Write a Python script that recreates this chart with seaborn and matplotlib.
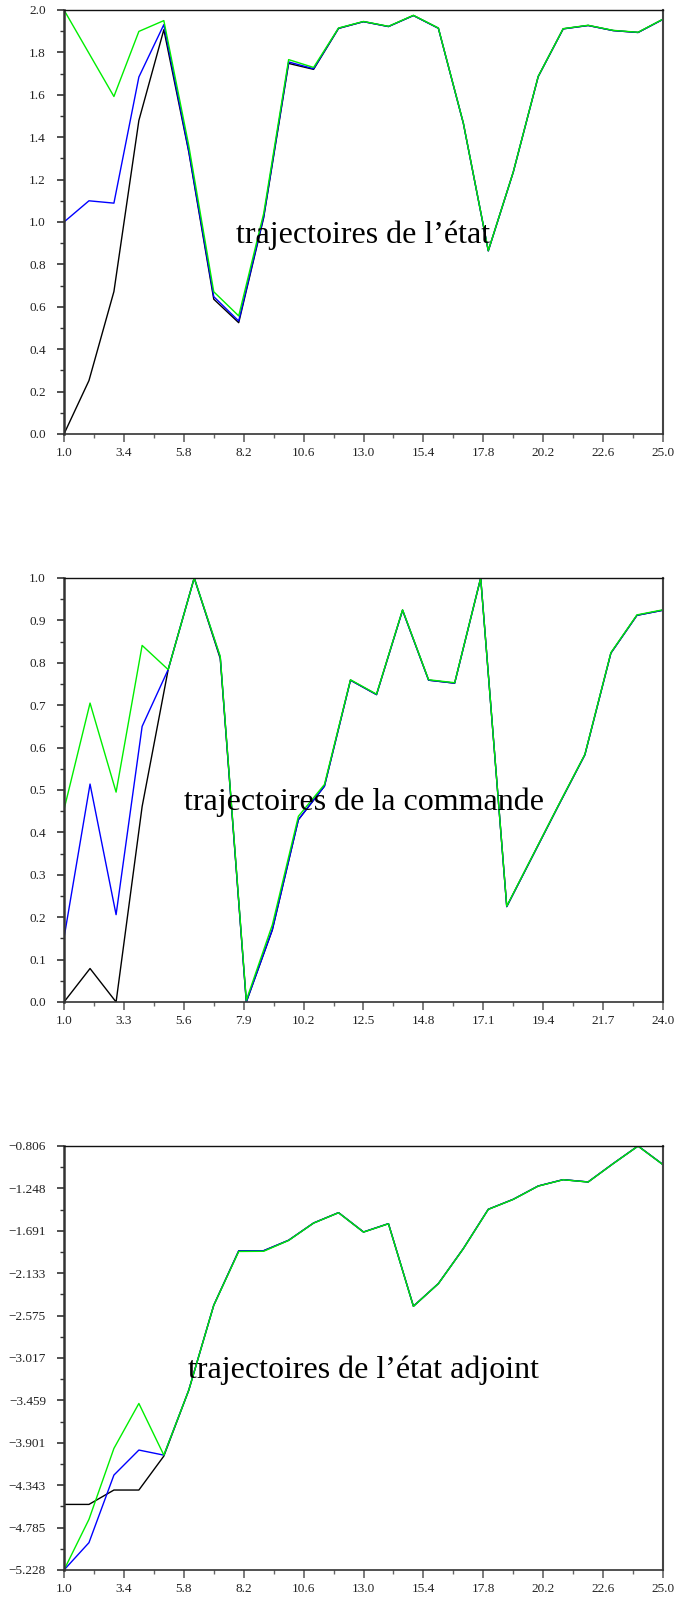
import numpy as np
import pandas as pd
import matplotlib
matplotlib.use("Agg")
import matplotlib.pyplot as plt
from matplotlib.ticker import FixedLocator, FormatStrFormatter
import seaborn as sns

# ---------------- data ----------------
x_etat = list(range(1, 26))
etat_noir = [0.0, 0.252, 0.672, 1.479, 1.907, 1.33, 0.636, 0.525, 1.02, 1.748, 1.72,
             1.913, 1.945, 1.922, 1.974, 1.914, 1.466, 0.864, 1.235, 1.686, 1.911,
             1.927, 1.903, 1.894, 1.956]
etat_bleu = [1.0, 1.10, 1.089, 1.684, 1.931, 1.335, 0.648, 0.533, 1.025, 1.755, 1.723,
             1.914, 1.945, 1.922, 1.974, 1.914, 1.466, 0.864, 1.235, 1.686, 1.911,
             1.927, 1.903, 1.894, 1.956]
etat_vert = [2.0, 1.796, 1.592, 1.899, 1.95, 1.36, 0.671, 0.557, 1.04, 1.766, 1.729,
             1.915, 1.946, 1.923, 1.975, 1.915, 1.467, 0.865, 1.236, 1.687, 1.912,
             1.928, 1.904, 1.895, 1.957]

x_cmd = list(range(1, 25))
cmd_noir = [0.0, 0.079, 0.0, 0.461, 0.784, 1.0, 0.81, 0.0, 0.17, 0.43, 0.509, 0.759,
            0.725, 0.924, 0.759, 0.752, 1.0, 0.225, 0.345, 0.465, 0.583, 0.823, 0.912, 0.924]
cmd_bleu = [0.151, 0.514, 0.206, 0.650, 0.784, 1.0, 0.813, 0.0, 0.171, 0.430, 0.509, 0.759,
            0.725, 0.924, 0.759, 0.752, 1.0, 0.225, 0.345, 0.465, 0.583, 0.823, 0.912, 0.924]
cmd_vert = [0.454, 0.705, 0.495, 0.841, 0.784, 1.0, 0.815, 0.004, 0.182, 0.438, 0.513, 0.760,
            0.726, 0.925, 0.760, 0.753, 1.0, 0.226, 0.346, 0.466, 0.584, 0.824, 0.913, 0.925]

x_adj = list(range(1, 26))
adj_noir = [-4.544, -4.544, -4.394, -4.394, -4.04, -3.352, -2.467, -1.900, -1.898, -1.789,
            -1.609, -1.501, -1.703, -1.616, -2.477, -2.241, -1.876, -1.466, -1.362, -1.223,
            -1.157, -1.181, -0.990, -0.806, -1.000]
adj_bleu = [-5.228, -4.943, -4.238, -3.977, -4.03, -3.352, -2.467, -1.900, -1.898, -1.789,
            -1.609, -1.501, -1.703, -1.616, -2.477, -2.241, -1.876, -1.466, -1.362, -1.223,
            -1.157, -1.181, -0.990, -0.806, -1.000]
adj_vert = [-5.228, -4.70, -3.96, -3.491, -4.03, -3.352, -2.467, -1.906, -1.904, -1.791,
            -1.610, -1.502, -1.704, -1.617, -2.478, -2.242, -1.877, -1.467, -1.363, -1.224,
            -1.158, -1.182, -0.991, -0.807, -1.001]

etat_xticks = [1.0, 3.4, 5.8, 8.2, 10.6, 13.0, 15.4, 17.8, 20.2, 22.6, 25.0]
cmd_xticks = [1.0, 3.3, 5.6, 7.9, 10.2, 12.5, 14.8, 17.1, 19.4, 21.7, 24.0]
etat_yticks = [0.0, 0.2, 0.4, 0.6, 0.8, 1.0, 1.2, 1.4, 1.6, 1.8, 2.0]
cmd_yticks = [0.0, 0.1, 0.2, 0.3, 0.4, 0.5, 0.6, 0.7, 0.8, 0.9, 1.0]
adj_yticks = [-5.228, -4.785, -4.343, -3.901, -3.459, -3.017, -2.575, -2.133, -1.691, -1.248, -0.806]

titres = ["trajectoires de l\u2019\u00e9tat",
          "trajectoires de la commande",
          "trajectoires de l\u2019\u00e9tat adjoint"]
series = ["noir", "bleu", "vert"]
couleurs = {"noir": "#000000", "bleu": "#0000ff", "vert": "#00ee00"}

# ---------------- style ----------------
sns.set_style("ticks")
plt.rcParams["font.family"] = ["Liberation Serif", "DejaVu Serif"]
plt.rcParams["axes.unicode_minus"] = True

fig = plt.figure(figsize=(6.75, 16), dpi=100)
W = 675.0
H = 1600.0
left = 64 / W
width = (663 - 64) / W
height = 424 / H
bottoms = [(H - 434) / H, (H - 1002) / H, (H - 1570) / H]

panels = [
    (x_etat, [etat_noir, etat_bleu, etat_vert], etat_xticks, etat_yticks, "%.1f", (1, 25)),
    (x_cmd, [cmd_noir, cmd_bleu, cmd_vert], cmd_xticks, cmd_yticks, "%.1f", (1, 24)),
    (x_adj, [adj_noir, adj_bleu, adj_vert], etat_xticks, adj_yticks, "%.3f", (1, 25)),
]
text_y = [0.468, 0.47, 0.471]

for i, (xs, ys, xt, yt, fmt, xl) in enumerate(panels):
    ax = fig.add_axes([left, bottoms[i], width, height])
    frames = []
    for name, vals in zip(series, ys):
        frames.append(pd.DataFrame({"x": xs, "y": vals, "serie": name}))
    df = pd.concat(frames, ignore_index=True)
    sns.lineplot(data=df, x="x", y="y", hue="serie", hue_order=series,
                 palette=couleurs, estimator=None, sort=False, legend=False,
                 linewidth=1.0, ax=ax)
    ax.set_xlim(*xl)
    ax.set_ylim(yt[0], yt[-1])
    ax.set_xlabel("")
    ax.set_ylabel("")
    ax.xaxis.set_major_locator(FixedLocator(xt))
    ax.yaxis.set_major_locator(FixedLocator(yt))
    xmin = [(a + b) / 2 for a, b in zip(xt[:-1], xt[1:])]
    ymin = [(a + b) / 2 for a, b in zip(yt[:-1], yt[1:])]
    ax.xaxis.set_minor_locator(FixedLocator(xmin))
    ax.yaxis.set_minor_locator(FixedLocator(ymin))
    ax.xaxis.set_major_formatter(FormatStrFormatter("%.1f"))
    if fmt == "%.3f":
        ax.set_yticklabels(["\u2212%.3f" % abs(v) for v in yt])
    else:
        ax.yaxis.set_major_formatter(FormatStrFormatter(fmt))
    ax.tick_params(axis="x", which="major", length=6, width=1.2, color="#666666",
                   direction="out", labelsize=9.5, labelcolor="#222222", pad=3)
    ax.tick_params(axis="x", which="minor", length=3, width=1.0, color="#666666",
                   direction="out")
    ax.tick_params(axis="y", which="major", length=5, width=1.2, color="#333333",
                   direction="out", labelsize=9.5, labelcolor="#222222", pad=8)
    ax.tick_params(axis="y", which="minor", length=3, width=1.0, color="#333333",
                   direction="out")
    ax.spines["left"].set_color("#333333")
    ax.spines["left"].set_linewidth(1.8)
    ax.spines["bottom"].set_color("#333333")
    ax.spines["bottom"].set_linewidth(1.2)
    ax.spines["top"].set_color("#111111")
    ax.spines["top"].set_linewidth(1.0)
    ax.spines["right"].set_color("#444444")
    ax.spines["right"].set_linewidth(1.5)
    for s in ax.spines.values():
        s.set_visible(True)
    ax.text(0.5, text_y[i], titres[i], transform=ax.transAxes, ha="center",
            va="center", fontsize=23, color="#000000")

fig.savefig("out.png", dpi=100, facecolor="white")
